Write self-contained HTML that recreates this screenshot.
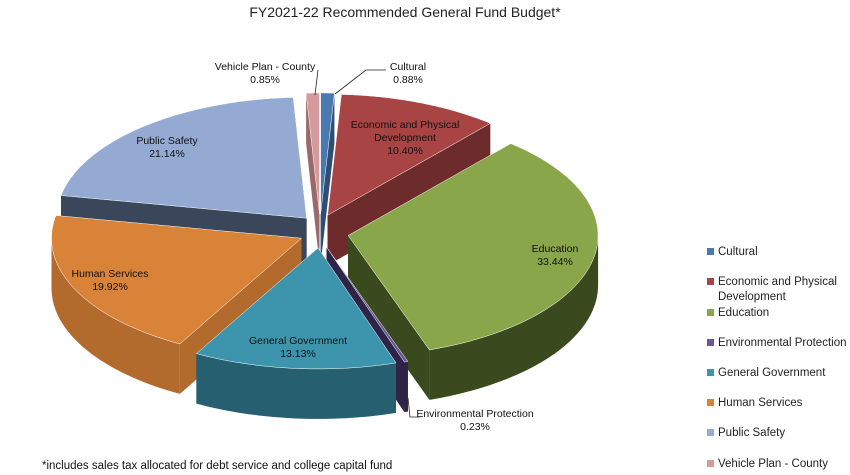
<!DOCTYPE html>
<html><head><meta charset="utf-8"><style>
body{margin:0;background:#fff;}
svg{display:block;font-family:"Liberation Sans",Calibri,sans-serif;}
</style></head><body>
<svg id="chart" width="850" height="475" viewBox="0 0 850 475">
<text x="405" y="17" font-size="14" text-anchor="middle" fill="#222">FY2021-22 Recommended General Fund Budget*</text>
<g id="pie"></g>
<g id="labels"></g>
<g id="legend"></g>
<text x="42" y="469" font-size="11.5" fill="#111">*includes sales tax allocated for debt service and college capital fund</text>
</svg>
<script>
const categories = ["Cultural","Economic and Physical Development","Education","Environmental Protection","General Government","Human Services","Public Safety","Vehicle Plan - County"];
const values = [0.88,10.40,33.44,0.23,13.13,19.92,21.14,0.85];
const valueLabels = ["0.88%","10.40%","33.44%","0.23%","13.13%","19.92%","21.14%","0.85%"];
const legendLines = [["Cultural"],["Economic and Physical","Development"],["Education"],["Environmental Protection"],["General Government"],["Human Services"],["Public Safety"],["Vehicle Plan - County"]];

const topColors = ["#4a78b0","#a84444","#89a64a","#6a5896","#3d95ad","#d98339","#95aad2","#d59a9b"];
const sideColors = ["#2f4e75","#6e2b2b","#3a4a1e","#2e2448","#255f70","#b36a2d","#3a4659","#9a6a6b"];
const legendY = [255,285,316,346,376,406,436,467];
const labelPos = [[408,70,"s"],[405,128,"m"],[555,252,"m"],[475,417,"s"],[298,344,"m"],[110,277,"m"],[167,144,"m"],[265,70,"s"]];

const NS = "http://www.w3.org/2000/svg";
const cx = 320, cy = 231, rx = 250, ry = 121, depth = 50, explode = 17;
const total = values.reduce((a,b)=>a+b,0);
function pt(th, ox, oy, dy){ return [cx+ox+rx*Math.sin(th), cy+oy-ry*Math.cos(th)+(dy||0)]; }
function mk(tag, attrs){ const e=document.createElementNS(NS,tag); for(const k in attrs) e.setAttribute(k,attrs[k]); return e; }
function poly(points){ return points.map(p=>p[0].toFixed(1)+","+p[1].toFixed(1)).join(" "); }

const slices=[]; let acc=0;
values.forEach((v,i)=>{
  const a0=acc/total*2*Math.PI; acc+=v; const a1=acc/total*2*Math.PI;
  const mid=(a0+a1)/2;
  const ex = explode*(i===2?1.4:1);
  slices.push({i,a0,a1,mid,ox:ex*Math.sin(mid)*1.2,oy:-ex*Math.cos(mid)});
});
const pie=document.getElementById('pie');
const order=slices.slice().sort((a,b)=>Math.cos(b.mid)-Math.cos(a.mid));
order.forEach(s=>{
  const g=mk('g',{});  
  const c=[cx+s.ox,cy+s.oy];
  [s.a0,s.a1].forEach(a=>{
    const p=pt(a,s.ox,s.oy);
    const w=mk('polygon',{points:poly([c,p,[p[0],p[1]+depth],[c[0],c[1]+depth]]),fill:sideColors[s.i]});
    
    
    g.appendChild(w);
  });
  const lo=Math.max(s.a0,Math.PI/2), hi=Math.min(s.a1,3*Math.PI/2);
  if(hi>lo){
    const top=[],bot=[];
    for(let k=0;k<=40;k++){const a=lo+(hi-lo)*k/40; top.push(pt(a,s.ox,s.oy)); bot.push(pt(a,s.ox,s.oy,depth));}
    const side=mk('polygon',{points:poly(top.concat(bot.reverse())),fill:sideColors[s.i]});
    
    
    g.appendChild(side);
  }
  const pts=[c];
  for(let k=0;k<=60;k++){pts.push(pt(s.a0+(s.a1-s.a0)*k/60,s.ox,s.oy));}
  const t=mk('polygon',{points:poly(pts),fill:topColors[s.i],stroke:'#fff','stroke-width':0.5});
  
  
  g.appendChild(t);
  pie.appendChild(g);
});

const lab=document.getElementById('labels');
categories.forEach((name,i)=>{
  const [x,y]=labelPos[i];
  const lines = (i===1)?["Economic and Physical","Development"]:[name];
  const t=mk('text',{x:x,y:y,'font-size':10.5,'text-anchor':'middle',fill:'#111'});
  
  
  lines.concat([valueLabels[i]]).forEach((l,j)=>{const sp=mk('tspan',{x:x,dy:j?13:0}); sp.textContent=l; t.appendChild(sp);});
  lab.appendChild(t);
});
[["318,70 315,95"],["386,70 366,70 335,94"],["420,417 410,417 408,398"]].forEach(p=>{
  const l=mk('polyline',{points:p[0],fill:'none',stroke:'#222','stroke-width':0.8});
  
  
  lab.appendChild(l);
});

const lg=document.getElementById('legend');
categories.forEach((name,i)=>{
  const g=mk('g',{});
  
  
  const y=legendY[i];
  g.appendChild(mk('rect',{x:707,y:y-7,width:7,height:7,fill:topColors[i]}));
  const t=mk('text',{x:718,y:y,'font-size':11.5,fill:'#222'});
  legendLines[i].forEach((l,j)=>{const sp=mk('tspan',{x:718,dy:j?15:0}); sp.textContent=l; t.appendChild(sp);});
  g.appendChild(t);
  lg.appendChild(g);
});
</script>
</body></html>
